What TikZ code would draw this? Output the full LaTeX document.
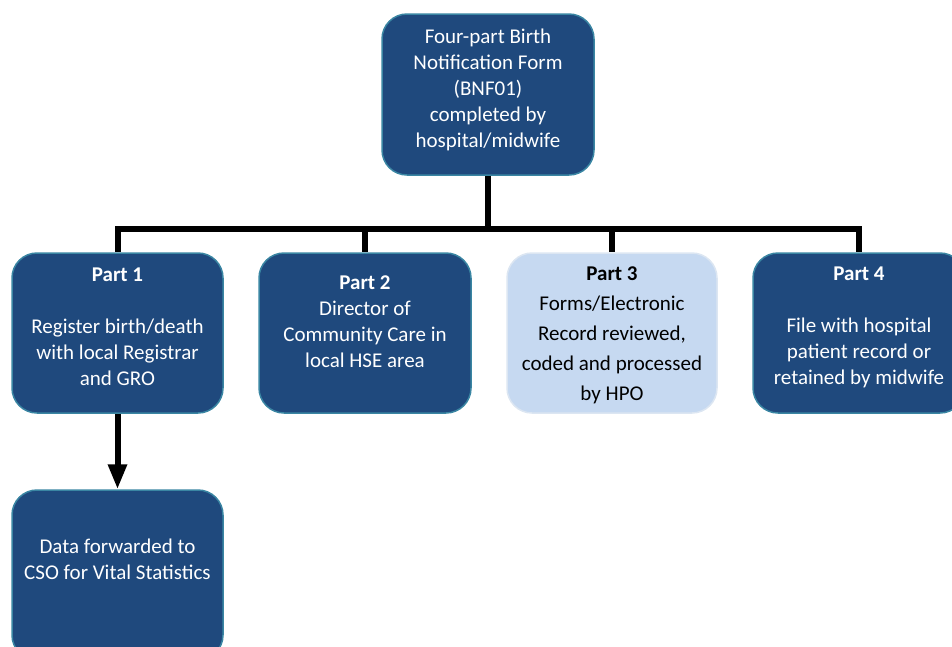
\documentclass[tikz,border=0pt]{standalone}
\usepackage{fontspec}
\setmainfont{Carlito}
\usetikzlibrary{arrows.meta}
\definecolor{darkbox}{HTML}{1F497D}
\definecolor{darkedge}{HTML}{3A86A3}
\definecolor{lightbox}{HTML}{C6D9F1}
\definecolor{lightedge}{HTML}{DCE6F2}
\tikzset{
  darkcard/.style={draw=darkedge, fill=darkbox, line width=1.5pt, rounded corners=25pt, inner sep=0pt},
  lightcard/.style={draw=lightedge, fill=lightbox, line width=1.5pt, rounded corners=25pt, inner sep=0pt},
  wtext/.style={text=white, align=center, font=\fontsize{21}{26}\selectfont, inner sep=0pt},
  btext/.style={text=black, align=center, font=\fontsize{21}{30}\selectfont, inner sep=0pt},
  conn/.style={line width=6pt, black, line join=miter},
}
\begin{document}
\begin{tikzpicture}[x=1pt,y=-1pt]
\useasboundingbox (0,0) rectangle (952,646);
\clip (0,0) rectangle (952,646);
% boxes
\node[darkcard, minimum width=212pt, minimum height=161pt] (top) at (488,94.5) {};
\node[darkcard, minimum width=211pt, minimum height=160pt] (p1) at (117.5,333) {};
\node[darkcard, minimum width=212pt, minimum height=160pt] (p2) at (365,333) {};
\node[lightcard, minimum width=210pt, minimum height=160pt] (p3) at (612,333) {};
\node[darkcard, minimum width=212pt, minimum height=160pt] (p4) at (859,333) {};
\node[darkcard, minimum width=211pt, minimum height=170pt] (cso) at (117.5,575) {};
% texts
\node[wtext] (ttop) at (488,90) {Four-part Birth\\Notification Form\\(BNF01)\\completed by\\hospital/midwife};
\node[wtext] (t1) at (117.5,327) {\textbf{Part 1}\\[26pt]Register birth/death\\with local Registrar\\and GRO};
\node[wtext] (t2) at (365,321.5) {\textbf{Part 2}\\Director of\\Community Care in\\local HSE area};
\node[btext] (t3) at (612,335) {\textbf{Part 3}\\Forms/Electronic\\Record reviewed,\\coded and processed\\by HPO};
\node[wtext] (t4) at (859,327) {\textbf{Part 4}\\[26pt]File with hospital\\patient record or\\retained by midwife};
\node[wtext] (tcso) at (117.5,559) {Data forwarded to\\CSO for Vital Statistics};
% connectors
\coordinate (bar) at (488,229);
\draw[conn] (top.south) -- (bar);
\draw[conn] (bar) -| (p1.north);
\draw[conn] (bar) -| (p2.north);
\draw[conn] (bar) -| (p3.north);
\draw[conn] (bar) -| (p4.north);
\draw[conn, -{Triangle[length=25pt,width=18pt]}] (p1.south) -- (cso.north);
\end{tikzpicture}
\end{document}
